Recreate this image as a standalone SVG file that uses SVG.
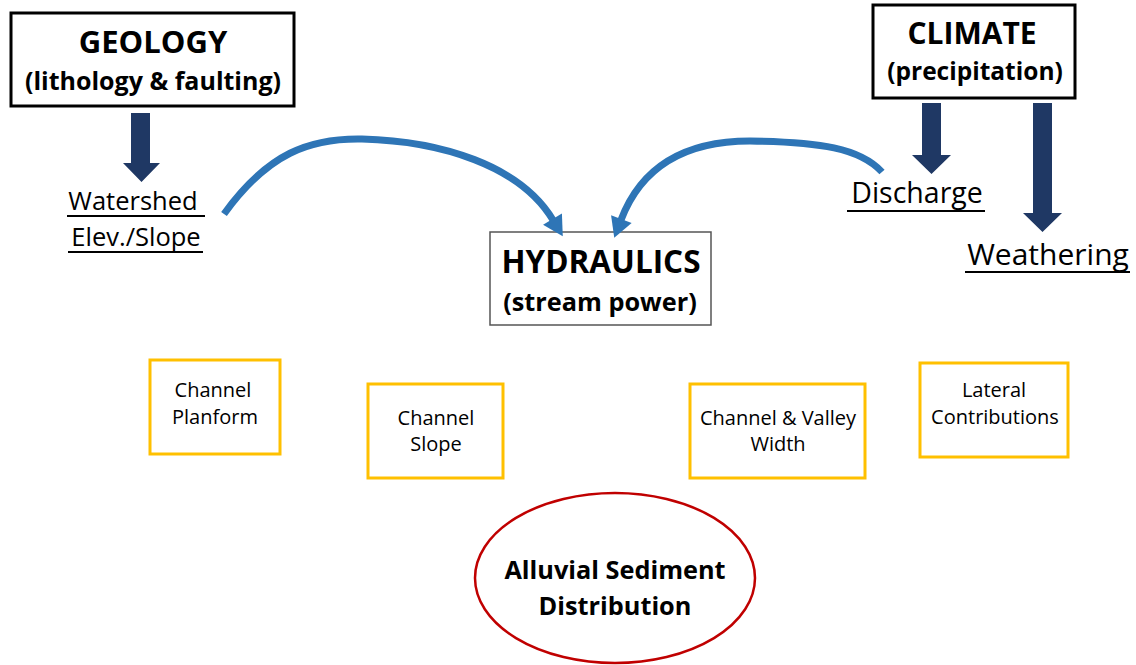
<svg xmlns="http://www.w3.org/2000/svg" width="1136" height="665" viewBox="0 0 1136 665">
<defs>
<style>
text{font-family:"Open Sans","Liberation Sans",sans-serif;fill:#000;text-anchor:middle}
.b{font-weight:bold}
.main{fill:#fff;stroke:#000;stroke-width:3}
.hyd{fill:#fff;stroke:#555;stroke-width:1.5}
.ybox{fill:#fff;stroke:#FFC000;stroke-width:3}
.ul{stroke:#000;stroke-width:2}
.nav{fill:#1F3864}
.curve{fill:none;stroke:#2E75B6;stroke-width:7;stroke-linecap:butt}
.bt{font-size:20px}
</style>
<marker id="ah" markerUnits="userSpaceOnUse" viewBox="-2 -12 24 24" refX="1" refY="0" markerWidth="24" markerHeight="24" orient="auto">
<path d="M0,-11 L20,0 L0,11 z" fill="#2E75B6"/>
</marker>
</defs>
<rect width="1136" height="665" fill="#fff"/>

<g id="geology">
<rect class="main" x="11" y="13" width="283" height="93"/>
<text class="b" x="153" y="53" font-size="31">GEOLOGY</text>
<text class="b" x="153" y="90" font-size="25">(lithology &amp; faulting)</text>
</g>

<g id="climate">
<rect class="main" x="873" y="5" width="202" height="93"/>
<text class="b" x="972" y="44" font-size="30">CLIMATE</text>
<text class="b" x="975" y="80" font-size="24.5">(precipitation)</text>
</g>

<g id="watershed">
<text x="133" y="210" font-size="25.5">Watershed</text>
<line class="ul" x1="67" y1="216" x2="205" y2="216"/>
<text x="136" y="246" font-size="25.5">Elev./Slope</text>
<line class="ul" x1="68" y1="252" x2="203" y2="252"/>
</g>

<g id="discharge">
<text x="917" y="203" font-size="28.5">Discharge</text>
<line class="ul" x1="847" y1="211" x2="985" y2="211"/>
</g>

<g id="weathering">
<text x="1048" y="265" font-size="30">Weathering</text>
<line class="ul" x1="965" y1="272" x2="1130" y2="272"/>
</g>

<g id="hydraulics">
<rect class="hyd" x="490" y="232" width="221" height="93"/>
<text class="b" x="601" y="273" font-size="31.5">HYDRAULICS</text>
<text class="b" x="600" y="311" font-size="25.3">(stream power)</text>
</g>

<g id="channel-planform">
<rect class="ybox" x="150" y="360" width="130" height="94"/>
<text class="bt" x="213" y="397">Channel</text>
<text class="bt" x="215" y="424">Planform</text>
</g>

<g id="channel-slope">
<rect class="ybox" x="368" y="384" width="135" height="94"/>
<text class="bt" x="436" y="425">Channel</text>
<text class="bt" x="436" y="451">Slope</text>
</g>

<g id="channel-valley-width">
<rect class="ybox" x="690" y="384" width="175" height="94"/>
<text class="bt" x="778" y="425">Channel &amp; Valley</text>
<text class="bt" x="778" y="451">Width</text>
</g>

<g id="lateral-contributions">
<rect class="ybox" x="920" y="363" width="148" height="94"/>
<text class="bt" x="994" y="397">Lateral</text>
<text class="bt" x="995" y="424">Contributions</text>
</g>

<g id="alluvial-sediment">
<ellipse cx="615" cy="578" rx="140" ry="85" fill="#fff" stroke="#C00000" stroke-width="2.5"/>
<text class="b" x="615" y="579" font-size="25.3">Alluvial Sediment</text>
<text class="b" x="615" y="615" font-size="25.3">Distribution</text>
</g>

<g id="connectors">
<polygon class="nav" points="131,113 150,113 150,163 160,163 141.5,182 123,163 131,163"/>
<polygon class="nav" points="922,103 941,103 941,155 951,155 931.5,174 912,155 922,155"/>
<polygon class="nav" points="1033,103 1052,103 1052,213 1062,213 1042.5,232 1023,213 1033,213"/>
<path class="curve" d="M224,214 C268,153 310,138 362,139 C440,141 520,165 553,220" marker-end="url(#ah)"/>
<path class="curve" d="M882,172 C860,148 820,142 750,141 C680,141 640,170 621,220" marker-end="url(#ah)"/>
</g>
</svg>
